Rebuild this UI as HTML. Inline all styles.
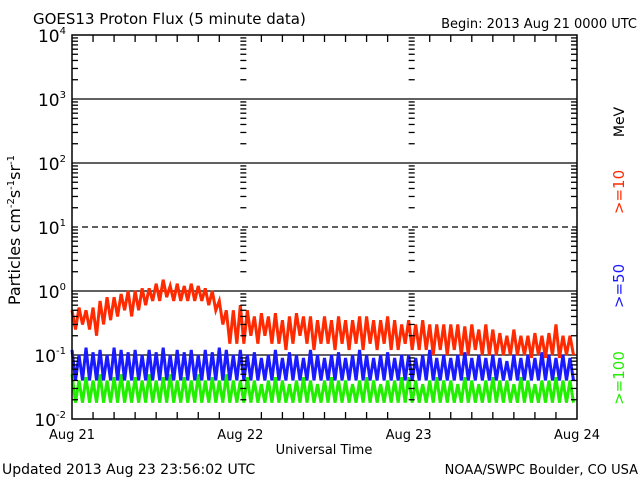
<!DOCTYPE html>
<html><head><meta charset="utf-8"><style>
body{margin:0;background:#fff}
svg{display:block;font-family:"DejaVu Sans","Liberation Sans",sans-serif}
</style></head><body>
<svg id="c" width="640" height="480" viewBox="0 0 640 480">
<text x="33" y="24" font-size="15">GOES13 Proton Flux (5 minute data)</text>
<text x="637" y="28" font-size="13" text-anchor="end">Begin: 2013 Aug 21 0000 UTC</text>
<g id="grid"></g>
<g id="series"></g>
<rect x="72" y="35" width="505" height="384" fill="none" stroke="#000" stroke-width="1.5"/>
<g id="axes"></g>
<text transform="translate(20,230) rotate(-90)" font-size="16" text-anchor="middle">Particles cm<tspan dy="-6" font-size="10">-2</tspan><tspan dy="6">s</tspan><tspan dy="-6" font-size="10">-1</tspan><tspan dy="6">sr</tspan><tspan dy="-6" font-size="10">-1</tspan></text>
<text x="324" y="454" font-size="13" text-anchor="middle">Universal Time</text>
<text x="2" y="474" font-size="14">Updated 2013 Aug 23 23:56:02 UTC</text>
<text x="638" y="474" font-size="13" text-anchor="end">NOAA/SWPC Boulder, CO USA</text>
<text transform="translate(624,122) rotate(-90)" font-size="14" text-anchor="middle">MeV</text>
<text transform="translate(624,192) rotate(-90)" font-size="15" fill="#ff2a00" text-anchor="middle">&gt;=10</text>
<text transform="translate(624,286) rotate(-90)" font-size="15" fill="#1a1aff" text-anchor="middle">&gt;=50</text>
<text transform="translate(624,378) rotate(-90)" font-size="15" fill="#22ee00" text-anchor="middle">&gt;=100</text>
</svg>
<script>
const dayLabels=["Aug 21","Aug 22","Aug 23","Aug 24"];
const decades=[-2,-1,0,1,2,3,4];
const redHi=[.5,.55,.5,.55,.7,.8,.8,.9,1.0,1.0,1.1,1.1,1.3,1.5,1.2,1.3,1.2,1.3,1.2,1.1,1.0,.7,.5,.5,
 .6,.5,.4,.45,.4,.45,.35,.4,.45,.4,.4,.35,.4,.35,.4,.35,.35,.4,.4,.35,.35,.4,.35,.3,
 .35,.3,.35,.3,.3,.3,.3,.3,.28,.3,.25,.3,.25,.22,.2,.25,.2,.2,.22,.2,.22,.3,.2,.2];
const redLo=[.25,.3,.25,.2,.3,.35,.4,.5,.4,.5,.6,.7,.7,.8,.7,.7,.7,.7,.7,.6,.5,.3,.15,.15,
 .15,.2,.15,.2,.15,.15,.12,.15,.2,.15,.12,.15,.15,.12,.15,.12,.15,.12,.15,.12,.15,.12,.12,.15,
 .12,.12,.12,.1,.12,.1,.12,.1,.1,.12,.1,.1,.1,.1,.1,.1,.1,.09,.1,.09,.1,.09,.1,.1];
const blueHi=[.12,.1,.13,.11,.12,.1,.13,.12,.11,.12,.1,.12,.11,.13,.1,.12,.11,.12,.1,.12,.11,.13,.12,.1,
 .12,.1,.11,.09,.1,.12,.09,.11,.1,.09,.12,.1,.09,.1,.11,.09,.1,.12,.1,.09,.1,.11,.09,.1,
 .1,.09,.1,.12,.09,.1,.09,.1,.11,.09,.1,.09,.1,.09,.08,.1,.09,.1,.09,.11,.1,.09,.1,.09];
const blueLo=new Array(72).fill(0.04);
const greenHi=[.05,.04,.045,.04,.05,.04,.045,.05,.04,.045,.04,.05,.04,.045,.05,.04,.045,.04,.05,.04,.045,.04,.05,.04,
 .04,.045,.04,.035,.04,.045,.04,.035,.04,.045,.04,.035,.04,.045,.04,.04,.035,.04,.045,.04,.035,.04,.04,.045,
 .045,.04,.035,.04,.045,.04,.04,.035,.045,.04,.035,.04,.045,.04,.04,.035,.045,.04,.035,.04,.04,.045,.04,.04];
const greenLo=new Array(72).fill(0.018);

const NS="http://www.w3.org/2000/svg";
const X0=72,X1=577,Y0=35,Y1=419;
const xScale=h=>X0+(X1-X0)*h/72;
const yScale=v=>Y1-(Math.log10(v)+2)*64;
function mk(tag,attrs,parent){const e=document.createElementNS(NS,tag);for(const k in attrs)e.setAttribute(k,attrs[k]);parent.appendChild(e);return e;}
const grid=document.getElementById('grid'),axes=document.getElementById('axes'),ser=document.getElementById('series');
decades.forEach(d=>{
  const y=Y1-(d+2)*64;
  if(d>-2&&d<4){const l=mk('line',{x1:X0,x2:X1,y1:y,y2:y,stroke:'#000','stroke-width':1.3},grid);
    if(d===1)l.setAttribute('stroke-dasharray','6,4');
    
    }
  const t=mk('text',{x:X0-6,y:y+7,'font-size':17,'text-anchor':'end'},axes);
  t.innerHTML='10<tspan dy="-8" font-size="10">'+d+'</tspan>';
  
  
  if(d<4){for(let m=2;m<=9;m++){const ym=y-Math.log10(m)*64;
    [X0,xScale(24),xScale(48),X1-6].forEach(xx=>{mk('line',{x1:xx,x2:xx+6,y1:ym,y2:ym,stroke:'#000','stroke-width':1.3},axes);});}}
});
for(let h=3;h<72;h+=3){const x=xScale(h),len=h%24===0?0:7;
  if(len){mk('line',{x1:x,x2:x,y1:Y1,y2:Y1-len,stroke:'#000','stroke-width':1.3},axes);mk('line',{x1:x,x2:x,y1:Y0,y2:Y0+len,stroke:'#000','stroke-width':1.3},axes);}}
dayLabels.forEach((s,i)=>{const t=mk('text',{x:xScale(i*24),y:439,'font-size':13,'text-anchor':'middle'},axes);t.textContent=s;
  
  });
function series(hi,lo,color,name){let pts=[];
  for(let i=0;i<hi.length;i++){pts.push(xScale(i)+','+yScale(hi[i]));pts.push(xScale(i+0.5)+','+yScale(lo[i]));}
  const p=mk('polyline',{points:pts.join(' '),fill:'none',stroke:color,'stroke-width':3},ser);
  
  }
series(greenHi,greenLo,'#22ee00','series-ge100');
series(blueHi,blueLo,'#1a1aff','series-ge50');
series(redHi,redLo,'#ff2a00','series-ge10');
</script>
</body></html>
